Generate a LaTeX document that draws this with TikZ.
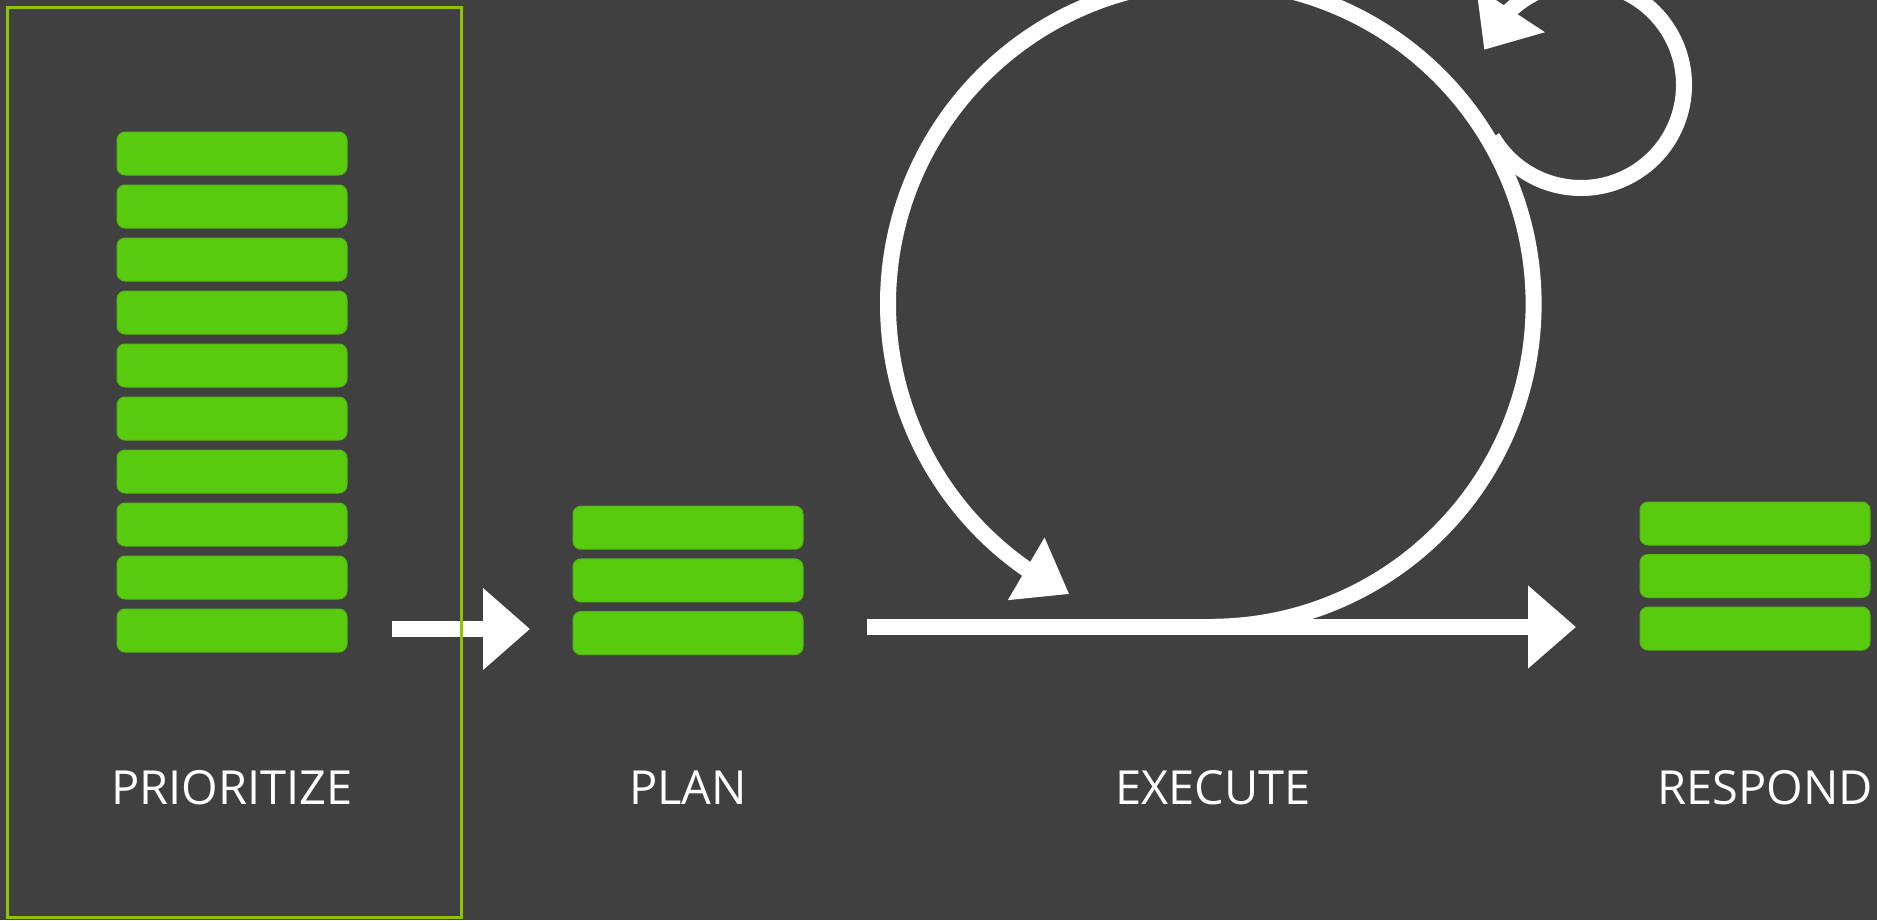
\documentclass[tikz,border=0pt]{standalone}
\usepackage{fontspec}
\setmainfont{Open Sans}
\usetikzlibrary{arrows.meta,bending}
\definecolor{bggray}{HTML}{404040}
\definecolor{bargreen}{HTML}{59CB0E}
\definecolor{baredge}{HTML}{52B810}
\definecolor{framegreen}{HTML}{8EC400}
\tikzset{
  bar/.style={
    shape = rectangle,
    rounded corners = 4pt,
    minimum width = 115pt,
    minimum height = 21.5pt,
    inner sep = 0pt,
    fill = bargreen,
    draw = baredge,
    line width = 0.5pt
  },
  stage/.style={
    text = white,
    anchor = base,
    inner sep = 0pt,
    font = \fontsize{23.5}{28}\selectfont
  },
  flow/.style={
    draw = white,
    line width = 8pt
  },
  frame/.style={
    draw = framegreen,
    line width = 1.75pt
  }
}

\begin{document}
\begin{tikzpicture}[x=0.5pt,y=0.5pt]
  \useasboundingbox (0,0) rectangle (1877,-920);
  \fill[bggray] (0,0) rectangle (1877,-920);
  \clip (0,0) rectangle (1877,-920);
  % stacks of tasks
  \foreach \i in {1,...,10}{
    \node[bar] (p\i) at (232,-100.5-53*\i) {};
  }
  \foreach \i in {1,2,3}{
    \node[bar] (plan\i) at (688,-475-52.7*\i) {};
    \node[bar] (resp\i) at (1755,-471-52.5*\i) {};
  }
  % stage names
  \node[stage] (lprio) at (232,-804) {PRIORITIZE};
  \node[stage] (lplan) at (688,-804) {PLAN};
  \node[stage] (lexec) at (1213,-804) {EXECUTE};
  \node[stage] (lresp) at (1765,-804) {RESPOND};
  % arrows
  \coordinate (a1s) at (392,-629);
  \coordinate (a1e) at (530,-629);
  \draw[flow,-{Triangle[length=23.5pt,width=39.5pt]}] (a1s) -- (a1e);
  \coordinate (l0) at (867,-627);
  \coordinate (l1) at (1576,-627);
  \draw[flow,-{Triangle[length=24pt,width=40pt]}] (l0) -- (l1);
  % execute loops
  \coordinate (bigc) at (1210.8,-304);
  \coordinate (smallc) at (1581,-85);
  \draw[flow,-{Triangle[length=25pt,width=34.5pt,flex]}]
    (bigc) ++(-90:322.8) arc[start angle=-90,end angle=244,radius=322.8];
  \draw[flow,-{Triangle[length=24pt,width=39.5pt,flex]}]
    (smallc) ++(210.6:103) arc[start angle=210.6,end angle=520,radius=103];
  \draw[frame] (7.7,-7.3) rectangle (461.7,-917.5);
\end{tikzpicture}
\end{document}
